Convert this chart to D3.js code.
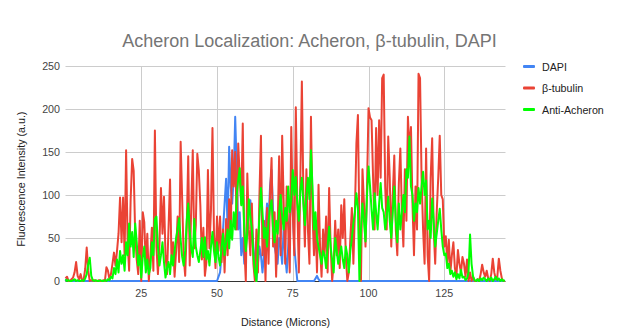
<!DOCTYPE html>
<html>
<head>
<meta charset="utf-8">
<script src="https://cdn.jsdelivr.net/npm/d3@7/dist/d3.min.js"></script>
<style>
  html, body { margin: 0; padding: 0; background: #fff; }
  svg { display: block; font-family: "Liberation Sans", Arial, sans-serif; }
</style>
</head>
<body>
<svg id="chart" width="622" height="335"></svg>
<script>
// Sample spacing along the line profile (microns)
const STEP = 0.5;

// DAPI intensity, one value per sample (0 → 145 µm)
const dapi = [
  0,3,0,0,0,0,0,0,0,0, 0,0,0,0,0,0,0,0,0,0,
  0,0,0,0,0,0,0,0,0,0, 0,0,0,0,0,0,0,0,0,0,
  0,0,0,0,0,0,0,0,0,0, 0,0,0,0,0,0,0,0,0,0,
  0,0,0,0,0,0,0,0,0,0, 0,0,0,0,0,0,0,0,0,0,
  0,0,0,0,0,0,0,0,0,0, 0,0,0,0,0,0,0,0,0,0,
  0,5,10,30,60,90,119,60,156,110, 90,120,191,130,60,80,30,50,20,40,
  60,80,94,70,40,20,0,20,40,30, 10,30,60,90,70,110,129,80,40,30,
  20,50,40,20,63,30,10,40,70,100, 80,40,20,0,0,0,0,0,0,0,
  0,0,0,0,0,3,6,2,0,0, 0,0,0,0,0,0,0,0,0,0,
  0,0,0,0,0,0,0,0,0,0, 0,0,0,0,0,0,0,0,0,0,
  0,0,0,0,0,0,0,0,0,0, 0,0,0,0,0,0,0,0,0,0,
  0,0,0,0,0,0,0,0,0,0, 0,0,0,0,0,0,0,0,0,0,
  0,0,0,0,0,0,0,0,0,0, 0,0,0,0,0,0,0,0,0,0,
  0,0,0,0,0,0,0,0,0,0, 0,0,0,0,0,0,0,0,0,0,
  0,0,0,0,0,0,0,0,0,0,0
];

// β-tubulin intensity
const tubulin = [
  3,5,0,0,2,4,10,22,6,2, 8,0,2,14,39,12,0,1,0,1,
  0,0,1,0,0,1,0,16,12,2, 8,20,33,18,35,55,97,45,97,30,
  152,45,12,95,142,128,55,25,8,70, 0,80,68,18,55,0,28,62,12,175,
  40,8,42,108,55,98,30,8,62,118, 20,45,5,35,75,22,162,95,28,6,
  62,145,18,85,152,38,65,148,128,88, 25,62,6,22,129,38,82,178,55,15,
  75,35,75,22,60,10,72,30,95,50, 152,110,150,60,160,120,90,183,40,0,
  125,60,30,90,20,0,60,10,100,169, 30,70,0,85,20,100,143,40,80,5,
  60,145,30,169,90,20,110,60,10,179, 80,30,202,90,10,120,232,100,40,130,
  60,20,191,80,30,70,10,112,40,5, 60,30,75,10,108,40,0,20,70,30,
  60,15,88,50,95,30,0,10,50,85, 20,80,160,193,60,0,130,90,40,110,
  201,190,187,120,60,178,100,187,120,236, 240,110,60,168,120,40,100,146,60,30,
  114,154,80,40,130,70,191,150,179,90, 30,110,60,241,236,120,60,20,154,30,
  0,120,166,60,20,80,120,169,100,95, 40,52,20,48,10,30,45,15,5,36,
  20,10,28,20,5,25,0,10,0,5, 0,0,2,0,8,19,10,5,12,3,
  0,8,26,10,2,5,26,12,3,0,0
];

// Anti-Acheron intensity
const acheron = [
  2,0,1,0,0,1,2,0,1,0, 0,1,0,3,8,20,27,6,1,0,
  1,0,0,1,0,0,1,0,2,1, 5,3,15,8,25,10,35,20,30,12,
  45,30,67,40,57,28,67,45,18,30, 4,28,40,10,25,8,15,45,30,72,
  75,40,18,30,45,22,4,15,22,8, 30,18,35,50,60,73,48,28,18,35,
  70,90,58,38,28,72,40,30,22,35, 50,28,51,25,35,18,40,57,35,22,
  45,28,18,40,55,30,45,60,38,70, 48,80,60,100,118,131,88,110,60,35,
  56,95,75,60,30,10,0,40,75,108, 80,50,62,40,70,85,94,60,45,70,
  55,80,100,75,60,85,70,110,80,95, 129,100,121,90,70,105,120,90,65,100,
  120,95,152,110,60,80,50,40,30,20, 35,30,15,40,63,40,24,10,50,35,
  20,30,40,25,15,40,30,10,35,50, 67,80,102,85,0,60,90,70,46,100,
  133,110,83,60,102,80,60,90,114,85, 80,60,75,98,70,50,80,110,70,45,
  90,60,80,100,80,130,120,168,110,100, 70,90,80,108,90,110,127,100,117,60,
  70,50,96,70,40,55,70,84,60,40, 30,32,15,20,8,12,5,10,2,8,
  3,13,4,5,1,3,10,54,20,5, 1,0,2,0,3,1,4,2,0,3,
  1,4,0,2,5,1,3,0,2,0,1
];

const seriesNames = ["DAPI", "β-tubulin", "Anti-Acheron"];
const seriesColors = ["#4285f4", "#ea4335", "#00ff00"];
const xTicks = [25, 50, 75, 100, 125];
const yTicks = [0, 50, 100, 150, 200, 250];

const series = [dapi, tubulin, acheron];

const svg = d3.select("#chart");
const plot = { left: 65.5, right: 505.5, top: 66, bottom: 281 };

const x = d3.scaleLinear().domain([0, 145.2]).range([plot.left, plot.right]);
const y = d3.scaleLinear().domain([0, 250]).range([plot.bottom, plot.top]);

// Horizontal grid
svg.append("g")
  .selectAll("line")
  .data(yTicks)
  .join("line")
  .attr("x1", plot.left).attr("x2", plot.right)
  .attr("y1", d => Math.round(y(d)) + 0.5).attr("y2", d => Math.round(y(d)) + 0.5)
  .attr("stroke", d => d === 0 ? "#333" : "#cccccc")
  .attr("stroke-width", 1);

// Vertical grid
svg.append("g")
  .selectAll("line")
  .data(xTicks)
  .join("line")
  .attr("x1", d => Math.round(x(d)) + 0.5).attr("x2", d => Math.round(x(d)) + 0.5)
  .attr("y1", plot.top).attr("y2", plot.bottom)
  .attr("stroke", "#cccccc")
  .attr("stroke-width", 1);

// Y tick labels
svg.append("g")
  .selectAll("text")
  .data(yTicks)
  .join("text")
  .attr("x", 60)
  .attr("y", d => y(d) + 4)
  .attr("text-anchor", "end")
  .attr("font-size", 10.7)
  .attr("fill", "#444")
  .text(d => d);

// X tick labels
svg.append("g")
  .selectAll("text")
  .data(xTicks)
  .join("text")
  .attr("x", d => x(d))
  .attr("y", 297)
  .attr("text-anchor", "middle")
  .attr("font-size", 10.7)
  .attr("fill", "#444")
  .text(d => d);

// Series lines (DAPI underneath, Anti-Acheron on top)
const line = d3.line()
  .x((d, i) => x(i * STEP))
  .y(d => y(d));

svg.append("g")
  .selectAll("path")
  .data(series)
  .join("path")
  .attr("d", line)
  .attr("fill", "none")
  .attr("stroke", (d, i) => seriesColors[i])
  .attr("stroke-width", 2)
  .attr("stroke-linejoin", "round");

// Title
svg.append("text")
  .attr("x", 309.5).attr("y", 47)
  .attr("text-anchor", "middle")
  .attr("font-size", 18)
  .attr("fill", "#757575")
  .text("Acheron Localization: Acheron, β-tubulin, DAPI");

// Axis titles
svg.append("text")
  .attr("x", (plot.left + plot.right) / 2).attr("y", 326)
  .attr("text-anchor", "middle")
  .attr("font-size", 10.7)
  .attr("fill", "#222")
  .text("Distance (Microns)");

svg.append("text")
  .attr("transform", "translate(25,179) rotate(-90)")
  .attr("text-anchor", "middle")
  .attr("font-size", 10.7)
  .attr("fill", "#222")
  .text("Fluorescence Intensity (a.u.)");

// Legend
const legend = svg.append("g")
  .selectAll("g")
  .data(seriesNames)
  .join("g")
  .attr("transform", (d, i) => `translate(523, ${66.5 + i * 21.5})`);

legend.append("rect")
  .attr("x", 0).attr("y", -1.5)
  .attr("width", 12).attr("height", 3)
  .attr("rx", 1)
  .attr("fill", (d, i) => seriesColors[i]);

legend.append("text")
  .attr("x", 19).attr("y", 4)
  .attr("font-size", 10.7)
  .attr("fill", "#222")
  .text(d => d);
</script>
</body>
</html>
